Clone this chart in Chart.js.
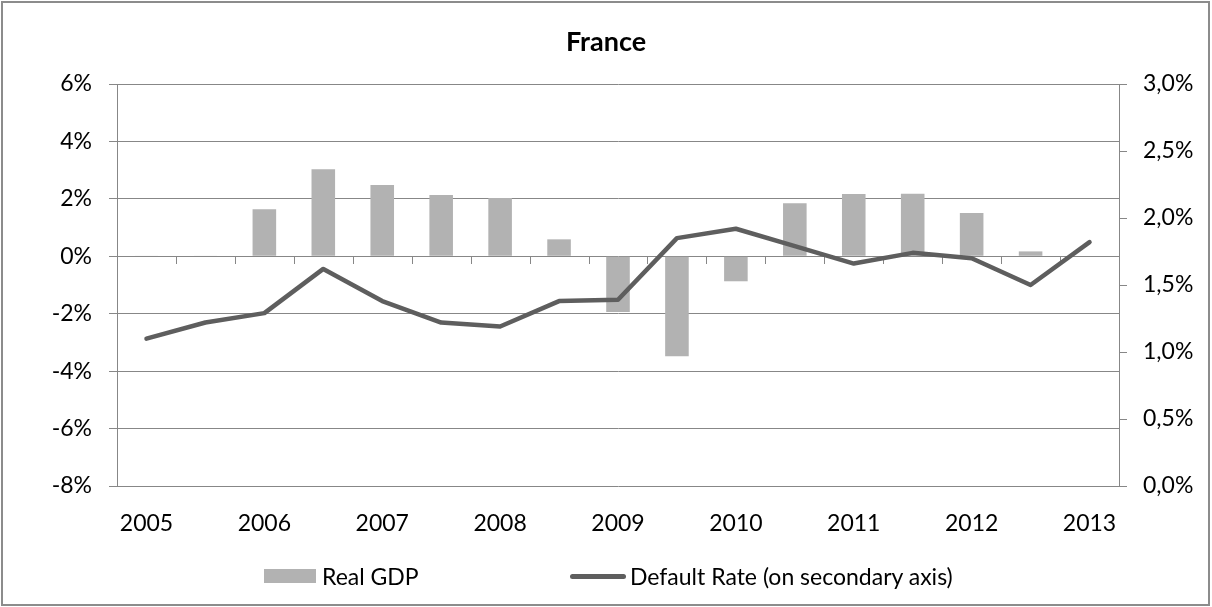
<!DOCTYPE html>
<html>
<head>
<meta charset="utf-8">
<title>France</title>
<script src="https://cdn.jsdelivr.net/npm/chart.js@4/dist/chart.umd.min.js"></script>
<style>
  html, body { margin: 0; padding: 0; background: #fff; }
  #wrap { position: relative; width: 1212px; height: 607px; overflow: hidden; }
  #frame {
    position: absolute; left: 1px; top: 1px; width: 1209px; height: 605px;
    box-sizing: border-box; border: 2px solid #8c8c8c; pointer-events: none;
  }
  #legend {
    position: absolute; left: 264px; top: 562px; height: 28px;
    display: flex; align-items: center; white-space: nowrap;
    font-family: Lato, sans-serif; font-size: 23px; color: #000;
  }
  .item { display: flex; align-items: center; }
  .item:first-child { width: 306px; }
  .swatch { margin-right: 6px; }
</style>
</head>
<body>
<div id="wrap">
  <canvas id="franceChart" width="1212" height="607"></canvas>
  <div id="legend"></div>
  <div id="frame"></div>
</div>
<script>
// half-year periods, only the year starts carry a label
const periods = ["2005", "", "2006", "", "2007", "", "2008", "", "2009", "", "2010", "", "2011", "", "2012", "", "2013"];

// real GDP growth, %
const realGdp = [0.02, 0.02, 1.64, 3.03, 2.48, 2.13, 2.03, 0.59, -1.94, -3.48, -0.87, 1.85, 2.17, 2.18, 1.51, 0.17, null];

// default rate, % (right axis)
const defaultRate = [1.10, 1.22, 1.29, 1.62, 1.38, 1.22, 1.19, 1.38, 1.39, 1.85, 1.92, 1.79, 1.66, 1.74, 1.70, 1.50, 1.82];

const gridGrey = "#878787";

Chart.defaults.font.family = "Lato, sans-serif";
Chart.defaults.font.size = 23;
Chart.defaults.color = "#000";

// small tick marks on the zero line, one at every period boundary
const zeroLineTicks = {
  id: "zeroLineTicks",
  beforeDatasetsDraw(chart) {
    const x = chart.scales.x;
    const y0 = Math.round(chart.scales.y.getPixelForValue(0));
    const n = chart.data.labels.length;
    const half = (x.getPixelForValue(1) - x.getPixelForValue(0)) / 2;
    const ctx = chart.ctx;
    ctx.save();
    ctx.strokeStyle = gridGrey;
    ctx.lineWidth = 1;
    ctx.beginPath();
    for (let i = 0; i <= n; i++) {
      const px = Math.round(x.getPixelForValue(Math.min(i, n - 1)) + (i < n ? -half : half)) + 0.5;
      ctx.moveTo(px, y0);
      ctx.lineTo(px, y0 + 8);
    }
    ctx.stroke();
    ctx.restore();
  }
};

// builds the legend below the canvas from the chart's own legend items
const htmlLegend = {
  id: "htmlLegend",
  afterUpdate(chart) {
    const box = document.getElementById("legend");
    box.innerHTML = "";
    const items = chart.options.plugins.legend.labels.generateLabels(chart);
    items.sort(function (a, b) { return a.datasetIndex - b.datasetIndex; });
    items.forEach(function (it) {
      const item = document.createElement("div");
      item.className = "item";
      const sw = document.createElement("span");
      sw.className = "swatch";
      if (chart.data.datasets[it.datasetIndex].type === "line") {
        sw.style.width = "56px";
        sw.style.height = "5px";
        sw.style.borderRadius = "3px";
        sw.style.background = it.strokeStyle;
        sw.style.marginRight = "4px";
      } else {
        sw.style.width = "52px";
        sw.style.height = "14px";
        sw.style.background = it.fillStyle;
      }
      const txt = document.createElement("span");
      txt.textContent = it.text;
      item.appendChild(sw);
      item.appendChild(txt);
      box.appendChild(item);
    });
  }
};

const data = {
  labels: periods,
  datasets: [
    {
      type: "bar",
      label: "Real GDP",
      data: realGdp,
      backgroundColor: "#b2b2b2",
      borderWidth: 0,
      barPercentage: 0.4,
      categoryPercentage: 1,
      yAxisID: "y",
      order: 2
    },
    {
      type: "line",
      label: "Default Rate (on secondary axis)",
      data: defaultRate,
      borderColor: "#5e5e5e",
      backgroundColor: "#5e5e5e",
      borderWidth: 4.5,
      borderCapStyle: "round",
      borderJoinStyle: "round",
      pointRadius: 0,
      tension: 0,
      yAxisID: "y1",
      order: 1
    }
  ]
};

const config = {
  data: data,
  plugins: [zeroLineTicks, htmlLegend],
  options: {
    responsive: false,
    animation: false,
    devicePixelRatio: 1,
    layout: { padding: { top: 0, left: 0, right: 0, bottom: 61 } },
    plugins: {
      legend: { display: false },
      tooltip: { enabled: false },
      title: {
        display: true,
        text: "France",
        font: { size: 27, weight: "bold" },
        padding: { top: 26, bottom: 25.6 }
      }
    },
    scales: {
      x: {
        type: "category",
        offset: true,
        grid: { display: false },
        border: { display: false },
        ticks: { autoSkip: false, maxRotation: 0, padding: 16 },
        afterFit(scale) { scale.height = 60; }
      },
      y: {
        position: "left",
        min: -8,
        max: 6,
        ticks: {
          stepSize: 2,
          padding: 17,
          callback: function (v) { return v + "%"; }
        },
        grid: { color: gridGrey, lineWidth: 1, tickLength: 8 },
        border: { color: gridGrey, width: 1 },
        afterFit(scale) { scale.width = 117; }
      },
      y1: {
        position: "right",
        min: 0,
        max: 3,
        ticks: {
          stepSize: 0.5,
          padding: 16,
          callback: function (v) { return v.toFixed(1).replace(".", ",") + "%"; }
        },
        grid: { drawOnChartArea: false, color: gridGrey, lineWidth: 1, tickLength: 8 },
        border: { color: gridGrey, width: 1 },
        afterFit(scale) { scale.width = 93; }
      }
    }
  }
};

const franceChart = new Chart(document.getElementById("franceChart"), config);
</script>
</body>
</html>
